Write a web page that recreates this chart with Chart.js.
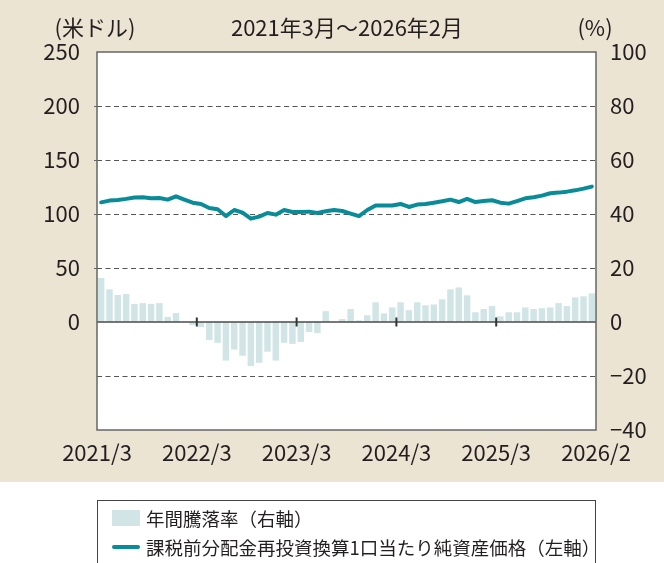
<!DOCTYPE html>
<html lang="ja">
<head>
<meta charset="utf-8">
<script src="https://cdn.jsdelivr.net/npm/chart.js@4"></script>
<style>
  html, body { margin: 0; padding: 0; background: #fff; }
  #wrap { position: relative; width: 664px; height: 563px; overflow: hidden; }
  #legend {
    position: absolute; left: 97px; top: 500px; width: 499px; height: 90px;
    box-sizing: border-box; border: 1px solid #444; background: #fff;
    font-family: "Noto Sans CJK JP", sans-serif; font-size: 18.5px; color: #231f20;
  }
  .row { position: absolute; left: 14px; display: flex; align-items: center; height: 26px; white-space: nowrap; }
  .sw-bar { width: 28px; height: 16px; background: #d1e5e6; margin-right: 6px; }
  .sw-line { width: 28px; height: 4px; border-radius: 2px; background: #0a8c98; margin-right: 6px; }
</style>
</head>
<body>
<div id="wrap">
  <canvas id="c" width="664" height="563"></canvas>
  <div id="legend">
    <div class="row" style="top:4px"><span class="sw-bar"></span>年間騰落率（右軸）</div>
    <div class="row" style="top:33px"><span class="sw-line"></span>課税前分配金再投資換算1口当たり純資産価格（左軸）</div>
  </div>
</div>
<script>
// ---- data ----
const startYear = 2021, startMonth = 3, monthCount = 60;
const xTickLabels = ['2021/3', '2022/3', '2023/3', '2024/3', '2025/3', '2026/2'];
const xTickIndex = [0, 12, 24, 36, 48, 60];

// 年間騰落率 (%), right axis
const annualReturn = [
  16.3, 12.1, 10.0, 10.4, 6.7, 7.0, 6.7, 7.0, 1.9, 3.3, 0.0, -1.1,
  -1.9, -6.7, -7.7, -14.3, -10.2, -12.5, -16.3, -15.1, -11.0, -14.3, -7.7, -8.1,
  -7.4, -3.7, -4.1, 4.0, 0.0, 1.1, 4.8, 0.6, 2.5, 7.3, 3.2, 5.4,
  7.3, 4.4, 7.3, 6.2, 6.5, 8.4, 12.1, 12.8, 9.9, 3.6, 4.8, 5.9,
  2.1, 3.6, 3.6, 5.4, 4.8, 5.1, 5.4, 7.0, 5.9, 9.1, 9.5, 10.6
];

// 課税前分配金再投資換算1口当たり純資産価格 (米ドル), left axis
const navPrice = [
  110.8, 112.4, 113.0, 114.0, 115.2, 115.5, 114.5, 114.8, 113.3, 116.4, 113.3, 110.5,
  109.3, 105.6, 104.4, 98.1, 103.7, 101.3, 95.7, 97.6, 100.9, 99.4, 103.7, 101.9,
  101.9, 102.2, 100.9, 102.5, 103.7, 102.8, 100.4, 98.1, 103.7, 107.8, 107.8, 107.8,
  109.3, 106.5, 108.7, 109.3, 110.5, 111.8, 113.3, 111.1, 113.9, 111.1, 112.0, 112.7,
  110.5, 109.6, 112.0, 114.5, 115.5, 117.0, 119.2, 119.8, 120.7, 121.9, 123.5, 125.4
];

const leftTicks = { min: -100, max: 250, step: 50 };
const rightTicks = { min: -40, max: 100, step: 20 };
const dashedAt = [-50, 50, 100, 150, 200]; // left-axis values with dashed grid lines

const months = [];
for (let i = 0; i < monthCount; i++) {
  const m = startMonth - 1 + i;
  months.push(`${startYear + Math.floor(m / 12)}/${(m % 12) + 1}`);
}

const FONT = '"Noto Sans CJK JP", "Noto Sans", sans-serif';
const TEXT = '#231f20';
const FS = 22;
Chart.defaults.font.family = FONT;
Chart.defaults.color = TEXT;

const decor = {
  id: 'decor',
  beforeDraw(chart) {
    const { ctx, chartArea: a } = chart;
    ctx.save();
    ctx.fillStyle = '#ece4d2';
    ctx.fillRect(0, 0, chart.width, 482);
    ctx.fillStyle = '#fff';
    ctx.fillRect(a.left, a.top, a.right - a.left, a.bottom - a.top);
    ctx.restore();
  },
  beforeDatasetsDraw(chart) {
    const { ctx, chartArea: a, scales } = chart;
    ctx.save();
    ctx.strokeStyle = '#555';
    ctx.lineWidth = 1.2;
    ctx.setLineDash([5, 3.5]);
    dashedAt.forEach(v => {
      const y = Math.round(scales.yL.getPixelForValue(v)) + 0.5;
      ctx.beginPath();
      ctx.moveTo(a.left, y);
      ctx.lineTo(a.right, y);
      ctx.stroke();
    });
    ctx.restore();
  },
  afterDatasetsDraw(chart) {
    const { ctx, chartArea: a, scales } = chart;
    const xs = scales.x;
    const half = (xs.getPixelForValue(1) - xs.getPixelForValue(0)) / 2;
    const boundary = i => i < monthCount ? xs.getPixelForValue(i) - half : xs.getPixelForValue(monthCount - 1) + half;
    const y0 = scales.yR.getPixelForValue(0);

    ctx.save();
    // zero line
    ctx.strokeStyle = '#4a4a4a';
    ctx.lineWidth = 1.6;
    ctx.beginPath();
    ctx.moveTo(a.left, y0);
    ctx.lineTo(a.right, y0);
    ctx.stroke();

    // yearly tick marks on the zero line
    ctx.lineWidth = 2;
    ctx.strokeStyle = '#333';
    xTickIndex.slice(1, -1).forEach(i => {
      const x = boundary(i);
      ctx.beginPath();
      ctx.moveTo(x, y0 - 4.5);
      ctx.lineTo(x, y0 + 4.5);
      ctx.stroke();
    });

    // plot frame
    ctx.strokeStyle = '#666';
    ctx.lineWidth = 1.5;
    ctx.strokeRect(a.left, a.top, a.right - a.left, a.bottom - a.top);

    // small outer ticks on the left axis
    ctx.lineWidth = 1;
    [50, 100, 150, 200].forEach(v => {
      const y = Math.round(scales.yL.getPixelForValue(v)) + 0.5;
      ctx.beginPath();
      ctx.moveTo(a.left - 3, y);
      ctx.lineTo(a.left, y);
      ctx.stroke();
    });

    // texts
    ctx.fillStyle = TEXT;
    ctx.font = `${FS}px ${FONT}`;
    ctx.textBaseline = 'middle';
    ctx.textAlign = 'center';
    ctx.fillText('(米ドル)', 95, 28);
    ctx.fillText('2021年3月～2026年2月', 347, 28);
    ctx.fillText('(%)', 595, 28);

    xTickLabels.forEach((lab, k) => {
      ctx.fillText(lab, boundary(xTickIndex[k]), 453);
    });
    ctx.restore();
  }
};

new Chart(document.getElementById('c'), {
  data: {
    labels: months,
    datasets: [
      {
        type: 'line',
        label: '課税前分配金再投資換算1口当たり純資産価格（左軸）',
        data: navPrice,
        yAxisID: 'yL',
        borderColor: '#0a8c98',
        borderWidth: 4,
        pointRadius: 0,
        tension: 0,
        borderJoinStyle: 'round',
        borderCapStyle: 'round',
        order: 1
      },
      {
        type: 'bar',
        label: '年間騰落率（右軸）',
        data: annualReturn,
        yAxisID: 'yR',
        backgroundColor: '#d1e5e6',
        borderWidth: 0,
        categoryPercentage: 1,
        barPercentage: 0.78,
        order: 2
      }
    ]
  },
  options: {
    responsive: false,
    animation: false,
    layout: { padding: { top: 52, left: 0, right: 0, bottom: 0 } },
    plugins: { legend: { display: false }, tooltip: { enabled: false } },
    scales: {
      x: {
        type: 'category',
        offset: true,
        grid: { display: false },
        border: { display: false },
        ticks: { display: false },
        afterFit(s) { s.height = 133; }
      },
      yL: {
        position: 'left',
        min: leftTicks.min,
        max: leftTicks.max,
        grid: { display: false },
        border: { display: false },
        ticks: {
          stepSize: leftTicks.step,
          padding: 9,
          font: { size: FS },
          color: TEXT,
          callback: v => v >= 0 ? v : ''
        },
        afterFit(s) { s.width = 97; }
      },
      yR: {
        position: 'right',
        min: rightTicks.min,
        max: rightTicks.max,
        grid: { display: false },
        border: { display: false },
        ticks: {
          stepSize: rightTicks.step,
          padding: 6,
          font: { size: FS },
          color: TEXT,
          callback: v => v < 0 ? '−' + (-v) : v
        },
        afterFit(s) { s.width = 68; }
      }
    }
  },
  plugins: [decor]
});
</script>
</body>
</html>
